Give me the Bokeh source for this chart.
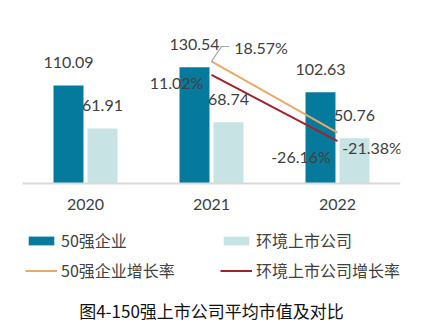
from bokeh.plotting import figure
from bokeh.models import (ColumnDataSource, FactorRange, Range1d, LabelSet, Legend,
                          LegendItem, Title, CategoricalAxis)
from bokeh.transform import dodge
from bokeh.core.properties import value
from bokeh.embed import file_html
from bokeh.resources import INLINE

# ---- data ----
years = ["2020", "2021", "2022"]
top50_value = [110.09, 130.54, 102.63]
env_value = [61.91, 68.74, 50.76]
growth_years = ["2021", "2022"]
top50_growth = [18.57, -21.38]
env_growth = [11.02, -26.16]
title_text = "图4-150强上市公司平均市值及对比"
legend_labels = ["50强企业", "环境上市公司", "50强企业增长率", "环境上市公司增长率"]

DARK = "#067A9C"
LIGHT = "#C8E3E3"
ORANGE = "#E8AA6C"
RED = "#A0222C"
TXT = "#404040"
NUMFONT = "Lato"
CJK = "Noto Sans CJK SC"

# layout (pixels): frame from TOP to BOTTOM, bar baseline at BASE
TOP, BASE, BOTTOM = 5, 183, 290
V_MAX = 200.0
P_MAX, P_MIN = 50.0, -50.0
scale_v = (BASE - TOP) / V_MAX
scale_p = (BASE - TOP) / (P_MAX - P_MIN)
v_start = -(BOTTOM - BASE) / scale_v
p_start = P_MIN - (BOTTOM - BASE) / scale_p

p = figure(width=435, height=334, x_range=FactorRange(factors=years),
           y_range=Range1d(v_start, V_MAX), output_backend="svg", toolbar_location=None,
           y_axis_location=None, x_axis_location=None,
           min_border_left=22, min_border_right=35,
           min_border_top=TOP, min_border_bottom=334 - BOTTOM)
p.extra_y_ranges = {"pct": Range1d(p_start, P_MAX)}
p.outline_line_color = None
p.xgrid.visible = False
p.ygrid.visible = False
p.background_fill_color = "white"
p.border_fill_color = "white"

src = ColumnDataSource(dict(
    year=years, top=top50_value, env=env_value,
    top_lbl=[f"{v:.2f}" for v in top50_value],
    env_lbl=[f"{v:.2f}" for v in env_value],
))

off = 0.135
bw = 0.238
r_top = p.vbar(x=dodge("year", -off, range=p.x_range), top="top", width=bw,
               source=src, fill_color=DARK, line_color=None)
r_env = p.vbar(x=dodge("year", off, range=p.x_range), top="env", width=bw,
               source=src, fill_color=LIGHT, line_color=None)

p.add_layout(LabelSet(x=dodge("year", -off, range=p.x_range), y="top", text="top_lbl",
                      source=src, y_offset=23, text_align="center",
                      text_baseline="middle", text_font=value(NUMFONT),
                      text_font_size="16px", text_color=TXT))
p.add_layout(LabelSet(x=dodge("year", off, range=p.x_range), y="env", text="env_lbl",
                      source=src, y_offset=23, text_align="center",
                      text_baseline="middle", text_font=value(NUMFONT),
                      text_font_size="16px", text_color=TXT))

gsrc = ColumnDataSource(dict(year=growth_years, top=top50_growth, env=env_growth))
r_tg = p.line(x="year", y="top", source=gsrc, y_range_name="pct",
              line_color=ORANGE, line_width=2)
r_eg = p.line(x="year", y="env", source=gsrc, y_range_name="pct",
              line_color=RED, line_width=2)

# leader line for the first orange label (start at data point)
x0 = years.index(growth_years[0]) + 0.5
lead_dx = [0.0, 10 / 126, 18 / 126]
lead_dy = [0.0, 8.4, 8.4]
p.line(x=[x0 + d for d in lead_dx], y=[top50_growth[0] + d for d in lead_dy],
       y_range_name="pct", line_color="#A6A6A6", line_width=1.2)

glbl = ColumnDataSource(dict(
    year=[growth_years[0], growth_years[0], growth_years[1], growth_years[1]],
    val=[top50_growth[0], env_growth[0], env_growth[1], top50_growth[1]],
    txt=[f"{top50_growth[0]:.2f}%", f"{env_growth[0]:.2f}%",
         f"{env_growth[1]:.2f}%", f"{top50_growth[1]:.2f}%"],
    dx=[49.5, -35, -36.5, 34.5],
    dy=[14, -8, -15, -15],
))
p.add_layout(LabelSet(x="year", y="val", text="txt", source=glbl, y_range_name="pct",
                      x_offset="dx", y_offset="dy", text_align="center",
                      text_baseline="middle", text_font=value(NUMFONT),
                      text_font_size="16px", text_color=TXT))

ax = CategoricalAxis(fixed_location=0)
ax.axis_line_color = "#D9D9D9"
ax.axis_line_width = 2
ax.major_tick_line_color = None
ax.minor_tick_line_color = None
ax.major_label_standoff = 9
ax.major_label_text_font = NUMFONT
ax.major_label_text_font_size = "16px"
ax.major_label_text_color = TXT
p.add_layout(ax, "below")

legend = Legend(items=[
    LegendItem(label=legend_labels[0], renderers=[r_top]),
    LegendItem(label=legend_labels[1], renderers=[r_env]),
    LegendItem(label=legend_labels[2], renderers=[r_tg]),
    LegendItem(label=legend_labels[3], renderers=[r_eg]),
], location=(3, 8), orientation="horizontal", ncols=2,
    glyph_width=32, glyph_height=11, label_standoff=4, spacing=6,
    padding=0, margin=0, border_line_color=None, background_fill_alpha=0,
    label_text_font=CJK, label_text_font_size="16px", label_text_color=TXT,
    label_height=20, label_width=153)
p.add_layout(legend, "center")

t = Title(text=title_text, align="center", text_font=CJK, text_font_size="17px",
          text_color="#111111", text_font_style="normal", standoff=10)
p.add_layout(t, "below")

open("out.html", "w").write(file_html(p, INLINE))
